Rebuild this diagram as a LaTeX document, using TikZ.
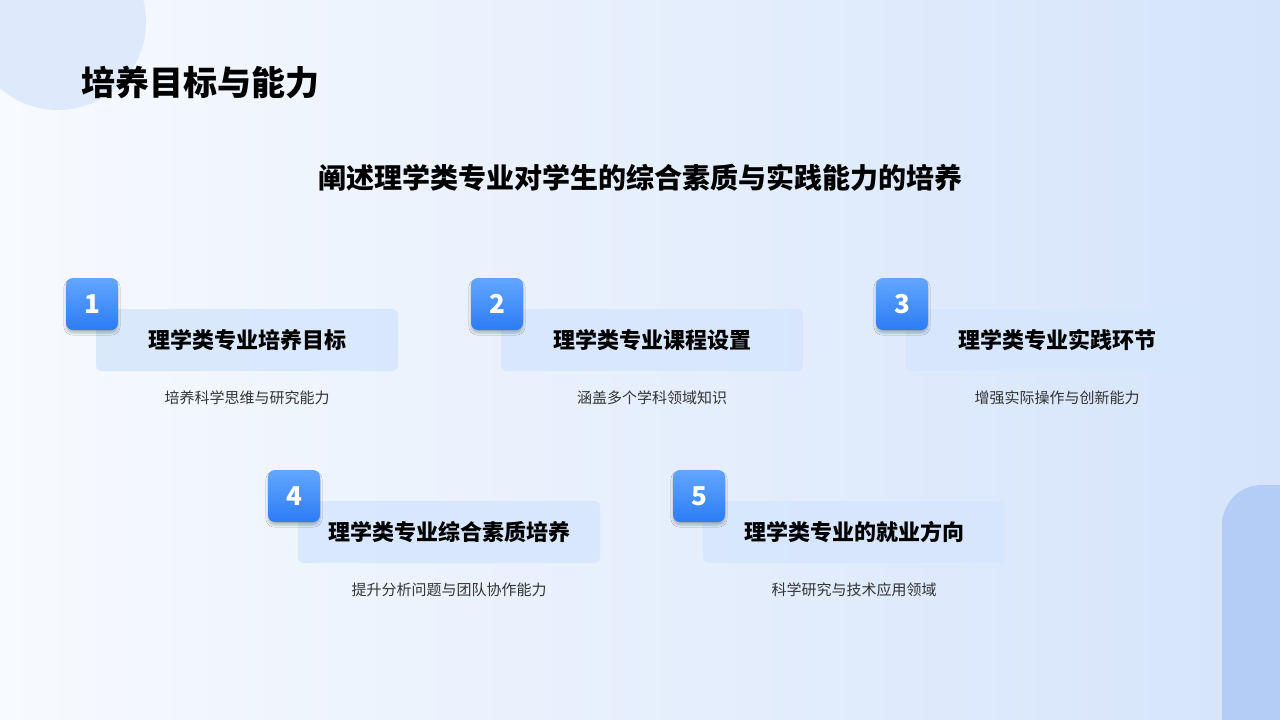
\documentclass[tikz,border=0pt]{standalone}
\usepackage{fontspec}
\setmainfont{Noto Sans CJK SC}
\usetikzlibrary{shadows.blur}
\definecolor{cardbg}{HTML}{D6E6FC}
\definecolor{badgeA}{HTML}{62A6FF}
\definecolor{badgeB}{HTML}{2C7CF4}
\definecolor{desc}{HTML}{333333}
\definecolor{bgend}{HTML}{CDDFFA}
\definecolor{circ}{HTML}{DEE9FB}
\definecolor{corner}{HTML}{B4CDF7}
\tikzset{
  card/.style={fill=cardbg, fill opacity=0.85, rounded corners=6pt, minimum width=302pt, minimum height=62pt, inner sep=0pt},
  badge/.style={rounded corners=7pt, minimum width=52pt, minimum height=52pt, inner sep=0pt, top color=badgeA, bottom color=badgeB, text=white, font=\fontsize{26}{30}\selectfont\bfseries, blur shadow={shadow blur steps=6, shadow xshift=0pt, shadow yshift=-3pt, shadow opacity=25}},
  cardtext/.style={font=\fontsize{22}{26}\selectfont\bfseries, text=black},
  desctext/.style={font=\fontsize{15}{18}\selectfont, text=desc},
}
\begin{document}
\begin{tikzpicture}[x=1pt,y=-1pt]
\useasboundingbox (0,0) rectangle (1280,720);
\begin{scope}
\clip (0,0) rectangle (1280,720);
\shade[shading angle=135, left color=white, right color=bgend] (-300,-300) rectangle (1580,1020);
\fill[circ] (58,22) circle (88);
\fill[corner, rounded corners=40pt] (1222,485) rectangle (1330,760);
\end{scope}
\node[anchor=west, font=\fontsize{34}{40}\selectfont\bfseries] (title) at (78,83) {培养目标与能力};
\node[font=\fontsize{28}{34}\selectfont\bfseries] (sub) at (640,178) {阐述理学类专业对学生的综合素质与实践能力的培养};
\foreach \i/\cx/\cy/\t/\d in {1/247/340/理学类专业培养目标/培养科学思维与研究能力, 2/652/340/理学类专业课程设置/涵盖多个学科领域知识, 3/1057/340/理学类专业实践环节/增强实际操作与创新能力, 4/449/532/理学类专业综合素质培养/提升分析问题与团队协作能力, 5/854/532/理学类专业的就业方向/科学研究与技术应用领域}{
  \node[card] (c\i) at (\cx,\cy) {};
  \node[cardtext] (t\i) at (\cx,\cy) {\t};
  \node[badge] (b\i) at (\cx-155,\cy-36) {\i};
  \node[desctext] (d\i) at (\cx,\cy+58) {\d};
}
\end{tikzpicture}
\end{document}
